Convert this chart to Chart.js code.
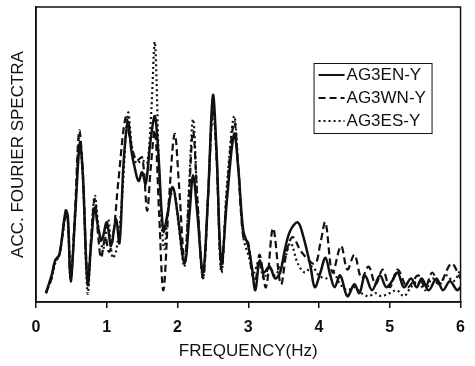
<!DOCTYPE html>
<html>
<head>
<meta charset="utf-8">
<script src="https://cdn.jsdelivr.net/npm/chart.js@4/dist/chart.umd.min.js"></script>
<style>
  html, body { margin: 0; padding: 0; background: #fff; }
  #wrap { width: 475px; height: 366px; }
</style>
</head>
<body>
<div id="wrap"><canvas id="spectraChart" width="475" height="366"></canvas></div>
<script>
// Frecuencias (Hz) y amplitudes relativas
const freqEN = [0.14, 0.22, 0.27, 0.33, 0.42, 0.45, 0.49, 0.55, 0.62, 0.66, 0.73, 0.78, 0.83, 0.88, 0.93, 1.00, 1.06, 1.13, 1.18, 1.24, 1.30, 1.35, 1.40, 1.45, 1.50, 1.55, 1.62, 1.68, 1.73, 1.80, 1.86, 1.93, 2.00, 2.10, 2.17, 2.22, 2.28, 2.36, 2.43, 2.50, 2.55, 2.62, 2.70, 2.80, 2.86, 2.93, 3.00, 3.05, 3.10, 3.16, 3.22, 3.30, 3.38, 3.45, 3.52, 3.59, 3.70, 3.78, 3.88, 3.94, 4.02, 4.09, 4.16, 4.22, 4.30, 4.40, 4.50, 4.57, 4.65, 4.75, 4.86, 4.95, 5.03, 5.11, 5.20, 5.30, 5.38, 5.45, 5.55, 5.66, 5.75, 5.85, 5.95, 6.00];
const specEN = [3, 9, 14, 16, 31, 29, 7, 28, 54, 44, 6, 20, 32, 25, 21, 27, 19, 28, 20, 48, 61, 51, 45, 41, 44, 40, 55, 63, 50, 24, 30, 39, 30, 13, 30, 43, 30, 10, 35, 70, 52, 13, 35, 57, 45, 24, 19, 12, 4, 14, 10, 12, 8, 10, 18, 24, 27, 22, 12, 5, 10, 15, 9, 5, 9, 2, 6, 3, 9, 4, 9, 5, 7, 10, 5, 8, 5, 8, 4, 8, 4, 7, 4, 5];

const freqWN = [0.14, 0.22, 0.27, 0.33, 0.42, 0.45, 0.49, 0.55, 0.61, 0.66, 0.73, 0.78, 0.83, 0.88, 0.92, 0.98, 1.03, 1.09, 1.16, 1.27, 1.33, 1.42, 1.50, 1.57, 1.62, 1.68, 1.74, 1.80, 1.88, 1.96, 2.02, 2.10, 2.16, 2.22, 2.28, 2.36, 2.43, 2.50, 2.55, 2.62, 2.70, 2.80, 2.86, 2.93, 3.00, 3.05, 3.10, 3.16, 3.25, 3.35, 3.46, 3.55, 3.63, 3.75, 3.94, 4.02, 4.09, 4.19, 4.31, 4.40, 4.50, 4.60, 4.70, 4.80, 4.90, 5.00, 5.11, 5.25, 5.40, 5.50, 5.60, 5.70, 5.87, 6.00];
const specWN = [3, 8, 14, 16, 30, 28, 8, 30, 58, 45, 7, 22, 35, 22, 15, 22, 17, 22, 40, 63, 55, 48, 49, 31, 45, 58, 30, 4, 35, 57, 40, 14, 35, 58, 35, 8, 35, 67, 50, 11, 38, 61, 45, 22, 20, 10, 7, 16, 5, 25, 6, 18, 22, 17, 13, 20, 27, 10, 19, 11, 16, 8, 12, 6, 11, 5, 11, 5, 9, 5, 10, 6, 13, 8];

const freqES = [0.14, 0.22, 0.27, 0.33, 0.42, 0.45, 0.49, 0.55, 0.61, 0.66, 0.73, 0.78, 0.83, 0.89, 0.95, 1.02, 1.08, 1.13, 1.20, 1.30, 1.36, 1.42, 1.50, 1.57, 1.63, 1.68, 1.74, 1.81, 1.88, 1.95, 2.02, 2.10, 2.16, 2.22, 2.28, 2.36, 2.43, 2.50, 2.55, 2.62, 2.70, 2.80, 2.86, 2.93, 3.00, 3.08, 3.15, 3.22, 3.30, 3.38, 3.45, 3.52, 3.60, 3.70, 3.80, 3.90, 4.00, 4.10, 4.20, 4.30, 4.40, 4.50, 4.60, 4.70, 4.80, 4.88, 5.00, 5.10, 5.20, 5.30, 5.40, 5.50, 5.60, 5.70, 5.80, 5.90, 6.00];
const specES = [3, 8, 13, 16, 29, 27, 8, 28, 55, 43, 3, 22, 36, 24, 18, 28, 15, 17, 30, 64, 52, 47, 48, 47, 65, 88, 45, 18, 34, 38, 25, 12, 38, 62, 35, 8, 35, 65, 50, 10, 40, 63, 45, 22, 16, 10, 14, 8, 12, 9, 12, 15, 20, 13, 10, 12, 9, 8, 10, 6, 4, 5, 3, 2, 3, 2, 3, 4, 2, 5, 7, 4, 8, 6, 9, 7, 11];

const seriesNames = ['AG3EN-Y', 'AG3WN-Y', 'AG3ES-Y'];
const xTicks = [0, 1, 2, 3, 4, 5, 6];

const FONT = 'Liberation Sans, Arial, sans-serif';

function toPoints(xs, ys) {
    return xs.map((x, i) => ({ x: x, y: ys[i] }));
}

// Marco del área de trazado y leyenda dentro del gráfico
const framePlugin = {
    id: 'frame',
    afterDraw(chart) {
        const { ctx, chartArea: a } = chart;
        ctx.save();
        ctx.strokeStyle = '#111';
        ctx.lineWidth = 1.5;
        ctx.strokeRect(a.left, a.top, a.right - a.left, a.bottom - a.top);

        // leyenda
        const bx = a.right - 147, by = a.top + 56, bw = 118, bh = 70;
        ctx.lineWidth = 1;
        ctx.fillStyle = '#fff';
        ctx.fillRect(bx, by, bw, bh);
        ctx.strokeRect(bx + 0.5, by + 0.5, bw, bh);
        ctx.font = '17px ' + FONT;
        ctx.textBaseline = 'middle';
        chart.data.datasets.forEach((ds, i) => {
            const y = by + 12 + i * 23;
            ctx.strokeStyle = ds.borderColor;
            ctx.lineWidth = 2;
            ctx.setLineDash(ds.borderDash || []);
            ctx.beginPath();
            ctx.moveTo(bx + 5, y);
            ctx.lineTo(bx + 31, y);
            ctx.stroke();
            ctx.setLineDash([]);
            ctx.fillStyle = '#111';
            ctx.fillText(ds.label, bx + 33, y);
        });
        ctx.restore();
    }
};

new Chart(document.getElementById('spectraChart'), {
    type: 'line',
    data: {
        datasets: [
            {
                label: seriesNames[0],
                data: toPoints(freqEN, specEN),
                borderColor: '#111',
                borderWidth: 2.5,
                borderDash: []
            },
            {
                label: seriesNames[1],
                data: toPoints(freqWN, specWN),
                borderColor: '#111',
                borderWidth: 2.2,
                borderDash: [7, 4]
            },
            {
                label: seriesNames[2],
                data: toPoints(freqES, specES),
                borderColor: '#111',
                borderWidth: 2.2,
                borderDash: [2, 3]
            }
        ]
    },
    options: {
        responsive: false,
        animation: false,
        layout: { padding: { left: 0, right: 14, top: 7, bottom: 0 } },
        elements: {
            point: { radius: 0 },
            line: { tension: 0.35, fill: false }
        },
        plugins: {
            legend: { display: false },
            tooltip: { enabled: false }
        },
        scales: {
            x: {
                type: 'linear',
                min: 0,
                max: 6,
                afterBuildTicks: scale => {
                    scale.ticks = xTicks.map(v => ({ value: v }));
                },
                afterFit: scale => { scale.height = 64; },
                grid: {
                    drawOnChartArea: false,
                    tickLength: 6,
                    color: '#111',
                    lineWidth: 1.5
                },
                border: { color: '#111', width: 1.5 },
                ticks: {
                    color: '#111',
                    padding: 10,
                    maxRotation: 0,
                    font: { family: FONT, size: 16, weight: 'bold' }
                },
                title: {
                    display: true,
                    text: 'FREQUENCY(Hz)',
                    color: '#111',
                    padding: { top: 0, bottom: 4 },
                    font: { family: FONT, size: 17 }
                }
            },
            y: {
                min: 0,
                max: 100,
                afterFit: scale => { scale.width = 36; },
                grid: { display: false },
                border: { color: '#111', width: 1.5 },
                ticks: { display: false },
                title: {
                    display: true,
                    text: 'ACC. FOURIER SPECTRA',
                    color: '#111',
                    padding: { top: 8, bottom: 0 },
                    font: { family: FONT, size: 17 }
                }
            }
        }
    },
    plugins: [framePlugin]
});
</script>
</body>
</html>
